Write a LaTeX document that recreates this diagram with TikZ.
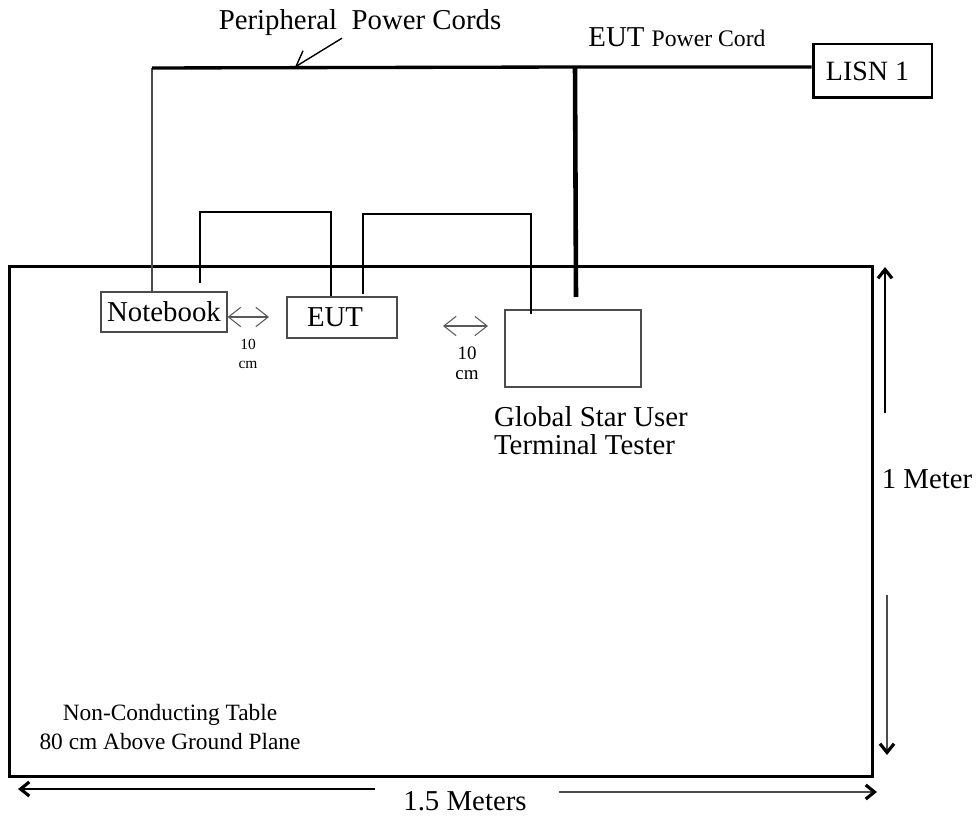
\documentclass[tikz,border=0pt]{standalone}
\usepackage{fontspec}
\setmainfont{Liberation Serif}
\usetikzlibrary{arrows.meta,positioning}

\begin{document}
\begin{tikzpicture}[x=0.02cm, y=-0.02cm,
        bigtxt/.style={font=\fontsize{16.4}{15.9}\selectfont, inner sep=1pt},
        tabtxt/.style={font=\fontsize{13.3}{16.4}\selectfont, inner sep=1pt, align=center},
        devbox/.style={draw=gray!60!black, line width=0.7pt, inner sep=0pt,
          font=\fontsize{16.4}{19}\selectfont},
        thickbox/.style={draw, line width=1.7pt, inner sep=0pt},
        cable/.style={line width=1.1pt},
        cord/.style={line width=1.9pt},
        eutcord/.style={line width=2.6pt},
        periph/.style={gray!60!black, line width=0.8pt},
        gapmark/.style={gray!70!black, line width=0.6pt,
          {Straight Barb[length=7pt,width=11pt]}-{Straight Barb[length=7pt,width=11pt]}},
        dimline/.style={gray!60!black, line width=0.8pt,
          -{Straight Barb[length=5pt,width=8pt,line width=1.8pt,color=black]}},
        pointer/.style={line width=0.8pt, -{Straight Barb[length=8pt,width=11pt]}}
      ]
        \useasboundingbox (0,0) rectangle (977,817);

        % Table and equipment
        \node[thickbox, minimum width=17.28cm, minimum height=10.22cm] (table) at (441,521.5) {};
        \node[devbox, minimum width=2.52cm, minimum height=0.8cm] (nb) at (164,312) {Notebook};
        \node[devbox, minimum width=2.2cm, minimum height=0.82cm] (eut) at (342,317.5)
          {\hspace*{-0.28cm}EUT};
        \node[devbox, minimum width=2.72cm, minimum height=1.54cm] (tester) at (573,348.5) {};
        \node[thickbox, minimum width=2.38cm, minimum height=1.08cm,
          font=\fontsize{15.9}{19}\selectfont] (lisn) at (872.5,71) {\hspace*{-0.2cm}LISN 1};

        \node[bigtxt, align=left, anchor=west] (testerlbl) at (492,431)
          {Global Star User\\Terminal Tester};

        % Power cords
        \coordinate (perA) at (152,68);
        \coordinate (junc) at (575,67);
        \coordinate (tsplug) at (576,297);
        \draw[periph] (nb.north -| perA) -- (perA);
        \draw[cord] (perA) -- (junc) -- (lisn.west |- junc);
        \draw[eutcord] (junc) -- (tsplug);

        \node[bigtxt] (perlbl) at (360,23) {Peripheral\ \ Power Cords};
        \coordinate (ptr) at (295,67);
        \draw[pointer] ([xshift=-0.36cm]perlbl.south) -- (ptr);

        \node[bigtxt] (eutlbl) at (677,37)
          {EUT {\fontsize{13.5}{16}\selectfont Power Cord}};

        % Signal cables
        \coordinate (nbplug) at (200,283);
        \coordinate (cabA) at (331,212);
        \draw[cable] (nbplug) |- (cabA) -- (cabA |- eut.north);
        \coordinate (eutplug) at (363,294);
        \coordinate (cabB) at (531,214);
        \coordinate (tsin) at (531,314);
        \draw[cable] (eutplug) |- (cabB) -- (tsin);

        % Spacing marks
        \coordinate (gapA) at (269,317);
        \draw[gapmark] (nb.east |- gapA) -- (gapA);
        \node[font=\fontsize{8.8}{11.3}\selectfont, align=center, inner sep=0pt] (gapAlbl)
          at (248,354) {10\\cm};
        \coordinate (gapBl) at (443,326);
        \coordinate (gapBr) at (488,326);
        \draw[gapmark] (gapBl) -- (gapBr);
        \node[font=\fontsize{10.8}{11.3}\selectfont, align=center, inner sep=0pt] (gapBlbl)
          at (467,363) {10\\cm};

        % Table dimensions
        \node[tabtxt] (tablbl) at (170,727) {Non-Conducting Table\\80 cm Above Ground Plane};
        \node[bigtxt] (hgt) at (927,479) {1 Meter};
        \node[bigtxt] (len) at (465,801) {1.5 Meters};
        \coordinate (hgtA) at (885,413);
        \coordinate (hgtB) at (885,267);
        \coordinate (hgtC) at (887,595);
        \coordinate (hgtD) at (887,755);
        \draw[dimline, black] (hgtA) -- (hgtB);
        \draw[dimline] (hgtC) -- (hgtD);
        \coordinate (lenA) at (375,789);
        \coordinate (lenB) at (18,789);
        \coordinate (lenC) at (559,792);
        \coordinate (lenD) at (877,792);
        \draw[dimline, black] (lenA) -- (lenB);
        \draw[dimline] (lenC) -- (lenD);
      \end{tikzpicture}
\end{document}
